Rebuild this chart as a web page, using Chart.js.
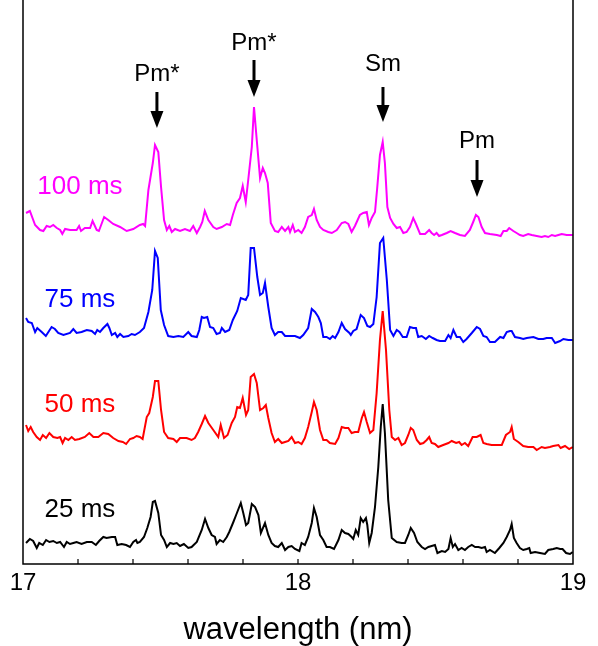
<!DOCTYPE html>
<html><head><meta charset="utf-8">
<script src="https://cdn.jsdelivr.net/npm/chart.js@4/dist/chart.umd.min.js"></script>
<style>html,body{margin:0;padding:0;background:#fff}#wrap{width:598px;height:646px}</style>
</head><body><div id="wrap"><canvas id="c" width="598" height="646"></canvas></div>
<script>
// ---- data (wavelength in nm, offset intensity in arbitrary units) ----
const xTickValues = [17, 18, 19];
const seriesNames = ['100 ms', '75 ms', '50 ms', '25 ms'];
const seriesColors = ['#ff00ff', '#0000ff', '#ff0000', '#000000'];

const spec100 = [[17.011,3.51],[17.025,3.53],[17.044,3.39],[17.062,3.34],[17.074,3.33],[17.086,3.38],[17.098,3.37],[17.110,3.39],[17.123,3.36],[17.135,3.34],
[17.143,3.30],[17.153,3.35],[17.171,3.34],[17.195,3.34],[17.204,3.38],[17.211,3.33],[17.225,3.36],[17.244,3.36],[17.253,3.43],[17.268,3.34],
[17.276,3.33],[17.295,3.47],[17.310,3.44],[17.328,3.40],[17.353,3.37],[17.377,3.33],[17.401,3.35],[17.425,3.39],[17.437,3.40],[17.444,3.38],
[17.456,3.74],[17.472,4.01],[17.480,4.19],[17.492,4.12],[17.502,3.77],[17.513,3.44],[17.523,3.34],[17.532,3.38],[17.541,3.32],[17.553,3.35],
[17.571,3.33],[17.589,3.35],[17.607,3.33],[17.619,3.38],[17.632,3.31],[17.644,3.37],[17.652,3.42],[17.661,3.53],[17.674,3.44],[17.692,3.37],
[17.704,3.35],[17.723,3.37],[17.741,3.40],[17.753,3.39],[17.763,3.49],[17.777,3.61],[17.789,3.66],[17.799,3.78],[17.810,3.62],[17.819,3.84],
[17.832,4.17],[17.840,4.57],[17.850,4.24],[17.862,3.86],[17.872,3.96],[17.880,3.91],[17.890,3.81],[17.901,3.41],[17.916,3.33],[17.928,3.32],
[17.941,3.37],[17.953,3.33],[17.965,3.37],[17.971,3.32],[17.981,3.39],[17.989,3.32],[18.001,3.34],[18.013,3.31],[18.025,3.37],[18.037,3.47],
[18.050,3.49],[18.058,3.55],[18.068,3.44],[18.080,3.37],[18.092,3.34],[18.110,3.32],[18.123,3.31],[18.141,3.34],[18.159,3.41],[18.171,3.42],
[18.183,3.40],[18.195,3.32],[18.207,3.38],[18.225,3.49],[18.237,3.51],[18.250,3.52],[18.258,3.39],[18.268,3.46],[18.280,3.52],[18.288,3.76],
[18.298,4.09],[18.308,4.22],[18.316,4.01],[18.325,3.57],[18.335,3.46],[18.347,3.40],[18.359,3.36],[18.371,3.37],[18.383,3.31],[18.395,3.32],
[18.407,3.37],[18.419,3.46],[18.429,3.40],[18.444,3.30],[18.462,3.30],[18.477,3.34],[18.486,3.31],[18.495,3.29],[18.504,3.31],[18.513,3.28],
[18.523,3.29],[18.541,3.31],[18.555,3.33],[18.571,3.31],[18.589,3.29],[18.607,3.28],[18.625,3.34],[18.637,3.42],[18.647,3.49],[18.656,3.47],
[18.668,3.37],[18.680,3.31],[18.698,3.30],[18.723,3.29],[18.737,3.28],[18.747,3.33],[18.759,3.33],[18.768,3.36],[18.783,3.33],[18.795,3.31],
[18.807,3.29],[18.819,3.28],[18.837,3.30],[18.850,3.29],[18.868,3.28],[18.886,3.27],[18.898,3.28],[18.910,3.27],[18.923,3.29],[18.935,3.28],
[18.947,3.29],[18.959,3.30],[18.977,3.29],[18.999,3.29]];

const spec75 = [[17.011,2.46],[17.019,2.42],[17.032,2.41],[17.044,2.32],[17.052,2.36],[17.068,2.32],[17.083,2.28],[17.104,2.37],[17.116,2.35],[17.128,2.31],
[17.147,2.29],[17.171,2.31],[17.183,2.35],[17.195,2.31],[17.213,2.32],[17.232,2.34],[17.250,2.33],[17.262,2.30],[17.270,2.34],[17.280,2.32],
[17.292,2.36],[17.307,2.40],[17.314,2.36],[17.323,2.29],[17.335,2.31],[17.343,2.27],[17.353,2.30],[17.365,2.27],[17.383,2.28],[17.395,2.30],
[17.407,2.29],[17.425,2.32],[17.440,2.36],[17.456,2.52],[17.470,2.74],[17.480,3.13],[17.490,3.06],[17.501,2.54],[17.513,2.39],[17.528,2.28],
[17.547,2.27],[17.565,2.28],[17.583,2.27],[17.601,2.32],[17.613,2.28],[17.632,2.27],[17.641,2.34],[17.650,2.47],[17.658,2.46],[17.670,2.47],
[17.680,2.37],[17.692,2.36],[17.704,2.30],[17.716,2.31],[17.723,2.36],[17.735,2.32],[17.750,2.34],[17.763,2.44],[17.779,2.53],[17.792,2.66],
[17.810,2.64],[17.819,2.69],[17.828,3.16],[17.840,3.16],[17.852,2.87],[17.862,2.69],[17.872,2.71],[17.880,2.81],[17.892,2.57],[17.904,2.36],
[17.916,2.29],[17.928,2.32],[17.941,2.32],[17.953,2.28],[17.971,2.28],[17.989,2.28],[18.007,2.26],[18.019,2.29],[18.037,2.36],[18.050,2.55],
[18.062,2.52],[18.074,2.47],[18.083,2.41],[18.092,2.27],[18.104,2.27],[18.116,2.25],[18.126,2.28],[18.135,2.26],[18.147,2.32],[18.159,2.41],
[18.171,2.35],[18.187,2.31],[18.192,2.29],[18.201,2.33],[18.213,2.35],[18.228,2.49],[18.240,2.46],[18.252,2.38],[18.262,2.37],[18.274,2.40],
[18.286,2.67],[18.298,3.21],[18.310,3.26],[18.323,2.84],[18.335,2.34],[18.347,2.28],[18.359,2.34],[18.369,2.32],[18.381,2.27],[18.395,2.27],
[18.407,2.37],[18.419,2.36],[18.429,2.36],[18.437,2.27],[18.450,2.28],[18.465,2.25],[18.477,2.28],[18.490,2.26],[18.504,2.24],[18.516,2.23],
[18.535,2.23],[18.547,2.29],[18.555,2.26],[18.565,2.34],[18.577,2.27],[18.589,2.27],[18.601,2.22],[18.613,2.25],[18.632,2.31],[18.650,2.37],
[18.662,2.35],[18.674,2.28],[18.686,2.27],[18.698,2.22],[18.716,2.22],[18.735,2.27],[18.747,2.26],[18.759,2.32],[18.771,2.33],[18.777,2.33],
[18.789,2.27],[18.807,2.26],[18.819,2.25],[18.832,2.26],[18.856,2.27],[18.874,2.25],[18.892,2.25],[18.904,2.26],[18.923,2.26],[18.935,2.21],
[18.953,2.23],[18.965,2.25],[18.983,2.24],[18.999,2.24]];

const spec50 = [[17.011,1.39],[17.019,1.33],[17.028,1.37],[17.037,1.32],[17.050,1.27],[17.062,1.24],[17.072,1.29],[17.084,1.26],[17.096,1.31],[17.110,1.27],
[17.125,1.26],[17.135,1.27],[17.144,1.21],[17.153,1.26],[17.165,1.24],[17.177,1.27],[17.189,1.24],[17.205,1.25],[17.225,1.27],[17.241,1.31],
[17.256,1.27],[17.274,1.27],[17.292,1.31],[17.310,1.30],[17.328,1.26],[17.347,1.23],[17.363,1.22],[17.375,1.20],[17.389,1.25],[17.401,1.26],
[17.413,1.28],[17.425,1.27],[17.435,1.25],[17.450,1.47],[17.459,1.51],[17.472,1.67],[17.480,1.83],[17.492,1.83],[17.502,1.54],[17.513,1.32],
[17.528,1.26],[17.547,1.25],[17.559,1.22],[17.571,1.26],[17.595,1.26],[17.613,1.24],[17.625,1.26],[17.637,1.32],[17.650,1.40],[17.662,1.48],
[17.674,1.41],[17.692,1.34],[17.710,1.27],[17.719,1.39],[17.731,1.26],[17.744,1.29],[17.759,1.41],[17.771,1.47],[17.779,1.57],[17.789,1.56],
[17.799,1.66],[17.811,1.49],[17.819,1.54],[17.828,1.87],[17.840,1.90],[17.850,1.81],[17.862,1.54],[17.874,1.56],[17.883,1.59],[17.892,1.46],
[17.904,1.31],[17.916,1.22],[17.928,1.25],[17.941,1.21],[17.953,1.22],[17.965,1.23],[17.977,1.27],[17.989,1.21],[18.001,1.22],[18.013,1.20],
[18.025,1.26],[18.037,1.37],[18.050,1.52],[18.058,1.62],[18.068,1.54],[18.080,1.34],[18.092,1.24],[18.104,1.24],[18.116,1.21],[18.135,1.20],
[18.147,1.26],[18.159,1.37],[18.171,1.36],[18.183,1.36],[18.195,1.31],[18.207,1.32],[18.219,1.32],[18.232,1.46],[18.240,1.52],[18.250,1.42],
[18.262,1.31],[18.274,1.34],[18.286,1.71],[18.298,2.24],[18.308,2.53],[18.320,2.14],[18.332,1.54],[18.341,1.27],[18.353,1.24],[18.365,1.26],
[18.377,1.19],[18.389,1.21],[18.401,1.29],[18.410,1.36],[18.419,1.34],[18.432,1.24],[18.444,1.20],[18.456,1.21],[18.468,1.24],[18.477,1.27],
[18.486,1.21],[18.498,1.20],[18.510,1.17],[18.528,1.19],[18.547,1.21],[18.559,1.23],[18.575,1.21],[18.586,1.22],[18.595,1.19],[18.607,1.21],
[18.619,1.18],[18.635,1.27],[18.650,1.27],[18.664,1.29],[18.674,1.21],[18.686,1.20],[18.704,1.19],[18.723,1.19],[18.741,1.19],[18.756,1.29],
[18.771,1.32],[18.777,1.37],[18.785,1.25],[18.801,1.22],[18.819,1.18],[18.837,1.17],[18.856,1.17],[18.868,1.14],[18.886,1.17],[18.898,1.16],
[18.916,1.17],[18.928,1.18],[18.947,1.19],[18.955,1.16],[18.971,1.18],[18.986,1.15],[18.999,1.17]];

const spec25 = [[17.011,0.21],[17.025,0.25],[17.037,0.23],[17.050,0.16],[17.059,0.21],[17.072,0.19],[17.084,0.24],[17.096,0.22],[17.110,0.23],[17.123,0.21],
[17.135,0.22],[17.149,0.17],[17.159,0.22],[17.171,0.20],[17.183,0.21],[17.195,0.22],[17.213,0.20],[17.232,0.22],[17.250,0.22],[17.265,0.19],
[17.277,0.23],[17.292,0.27],[17.304,0.26],[17.323,0.27],[17.335,0.27],[17.343,0.19],[17.359,0.20],[17.375,0.19],[17.389,0.17],[17.401,0.22],
[17.411,0.24],[17.416,0.21],[17.425,0.22],[17.440,0.27],[17.452,0.36],[17.464,0.47],[17.472,0.62],[17.480,0.63],[17.492,0.51],[17.502,0.29],
[17.513,0.24],[17.523,0.17],[17.535,0.21],[17.547,0.20],[17.559,0.21],[17.571,0.18],[17.585,0.20],[17.601,0.16],[17.613,0.17],[17.632,0.22],
[17.650,0.34],[17.662,0.45],[17.674,0.36],[17.686,0.29],[17.698,0.27],[17.704,0.20],[17.716,0.24],[17.728,0.22],[17.741,0.27],[17.750,0.32],
[17.765,0.42],[17.775,0.49],[17.792,0.61],[17.801,0.51],[17.811,0.39],[17.819,0.41],[17.832,0.60],[17.844,0.57],[17.856,0.49],[17.865,0.31],
[17.880,0.41],[17.892,0.29],[17.904,0.21],[17.916,0.18],[17.928,0.17],[17.941,0.21],[17.953,0.14],[17.965,0.17],[17.977,0.18],[17.989,0.15],
[18.005,0.13],[18.013,0.21],[18.025,0.19],[18.037,0.27],[18.050,0.41],[18.058,0.56],[18.068,0.47],[18.080,0.29],[18.092,0.24],[18.104,0.17],
[18.116,0.17],[18.131,0.15],[18.147,0.24],[18.159,0.34],[18.171,0.31],[18.183,0.30],[18.195,0.27],[18.201,0.25],[18.210,0.34],[18.219,0.29],
[18.228,0.46],[18.237,0.42],[18.247,0.46],[18.252,0.39],[18.259,0.21],[18.268,0.31],[18.280,0.57],[18.292,0.97],[18.301,1.37],[18.308,1.60],
[18.316,1.31],[18.328,0.64],[18.341,0.26],[18.359,0.22],[18.377,0.21],[18.389,0.21],[18.401,0.29],[18.410,0.36],[18.422,0.31],[18.434,0.22],
[18.450,0.17],[18.462,0.15],[18.474,0.17],[18.486,0.18],[18.498,0.19],[18.507,0.11],[18.523,0.13],[18.535,0.12],[18.547,0.15],[18.555,0.26],
[18.563,0.17],[18.571,0.20],[18.583,0.14],[18.595,0.16],[18.607,0.14],[18.619,0.17],[18.632,0.19],[18.644,0.17],[18.656,0.17],[18.668,0.16],
[18.680,0.17],[18.686,0.12],[18.698,0.14],[18.716,0.11],[18.732,0.16],[18.747,0.21],[18.759,0.27],[18.771,0.34],[18.777,0.40],[18.785,0.26],
[18.795,0.21],[18.807,0.16],[18.819,0.14],[18.832,0.15],[18.841,0.16],[18.846,0.11],[18.862,0.12],[18.880,0.11],[18.898,0.10],[18.910,0.14],
[18.928,0.15],[18.941,0.16],[18.953,0.15],[18.962,0.15],[18.975,0.11],[18.989,0.10],[18.999,0.12]];

const seriesData = [spec100, spec75, spec50, spec25];
const seriesLabelWl = 17.207;
const seriesLabelY = [3.77, 2.64, 1.59, 0.54];

const peakNames = ['Pm*', 'Pm*', 'Sm', 'Pm'];
const peakWl = [17.487, 17.840, 18.309, 18.651];
const arrowTip = [4.36, 4.67, 4.42, 3.67];
const arrowTail = [4.72, 5.04, 4.77, 4.04];
const peakTextY = [4.90, 5.21, 5.00, 4.23];

// ---- chart ----
const FONT = "'Liberation Sans', Arial, Helvetica, sans-serif";

const framePlugin = {
  id: 'frame',
  afterDatasetsDraw(chart) {
    const {ctx, chartArea: a, scales: {x}} = chart;
    ctx.save();
    ctx.strokeStyle = '#000';
    ctx.lineWidth = 1.5;
    ctx.beginPath();
    ctx.moveTo(a.left, a.top - 2); ctx.lineTo(a.left, a.bottom);
    ctx.lineTo(a.right, a.bottom); ctx.lineTo(a.right, a.top - 2);
    ctx.stroke();
    ctx.lineWidth = 1.2;
    ctx.beginPath();
    for (let i = 1; i < 10; i++) {
      const px = x.getPixelForValue(17 + i * 0.2);
      ctx.moveTo(px, a.bottom); ctx.lineTo(px, a.bottom - 5);
    }
    ctx.stroke();
    ctx.restore();
  }
};

const annotatePlugin = {
  id: 'annotate',
  afterDraw(chart) {
    const {ctx, scales: {x, y}} = chart;
    ctx.save();
    ctx.textAlign = 'center';
    ctx.textBaseline = 'middle';
    ctx.font = '26px ' + FONT;
    seriesNames.forEach((n, i) => {
      ctx.fillStyle = seriesColors[i];
      ctx.fillText(n, x.getPixelForValue(seriesLabelWl), y.getPixelForValue(seriesLabelY[i]));
    });
    ctx.fillStyle = '#000';
    ctx.strokeStyle = '#000';
    ctx.font = '24px ' + FONT;
    peakNames.forEach((n, i) => {
      const px = x.getPixelForValue(peakWl[i]);
      const tip = y.getPixelForValue(arrowTip[i]);
      const tail = y.getPixelForValue(arrowTail[i]);
      ctx.fillText(n, px, y.getPixelForValue(peakTextY[i]));
      const head = 17;
      ctx.lineWidth = 3;
      ctx.beginPath();
      ctx.moveTo(px, tail); ctx.lineTo(px, tip - head + 2);
      ctx.stroke();
      ctx.beginPath();
      ctx.moveTo(px - 6.5, tip - head); ctx.lineTo(px + 6.5, tip - head); ctx.lineTo(px, tip);
      ctx.closePath();
      ctx.fill();
    });
    ctx.restore();
  }
};

new Chart(document.getElementById('c'), {
  type: 'line',
  data: {
    datasets: seriesData.map((d, i) => ({
      label: seriesNames[i],
      data: d.map(p => ({x: p[0], y: p[1]})),
      borderColor: seriesColors[i],
      borderWidth: 2,
      pointRadius: 0,
      tension: 0,
      fill: false
    }))
  },
  options: {
    responsive: false,
    animation: false,
    devicePixelRatio: 1,
    layout: {padding: {left: 23, right: 25, top: 0, bottom: 0}},
    plugins: {legend: {display: false}, tooltip: {enabled: false}},
    scales: {
      x: {
        type: 'linear', min: 17, max: 19,
        afterBuildTicks: s => { s.ticks = xTickValues.map(v => ({value: v})); },
        afterFit: s => { s.height = 82; },
        grid: {display: false, drawTicks: false},
        border: {display: false},
        ticks: {color: '#000', font: {size: 24, family: FONT}, padding: 5, maxRotation: 0, autoSkip: false},
        title: {display: true, text: 'wavelength (nm)', color: '#000', font: {size: 31, family: FONT, lineHeight: 1.0}, padding: {top: 4, bottom: 0}}
      },
      y: {display: false, min: 0, max: 5.64}
    }
  },
  plugins: [framePlugin, annotatePlugin]
});
</script>
</body></html>
